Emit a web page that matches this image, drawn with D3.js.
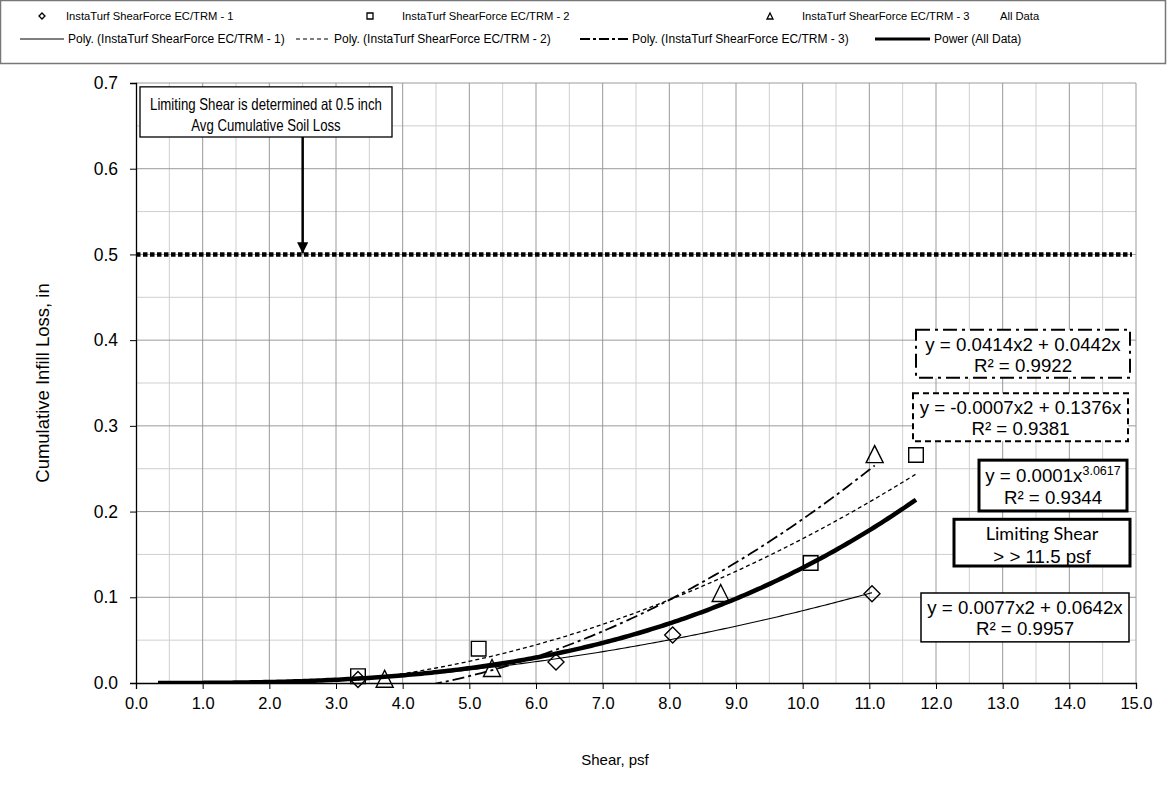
<!DOCTYPE html>
<html>
<head>
<meta charset="utf-8">
<style>
  body { margin: 0; background: #fff; }
  svg { display: block; font-family: "Liberation Sans", Arial, sans-serif; }
</style>
</head>
<body>
<div id="chart"></div>
<script src="https://cdn.jsdelivr.net/npm/d3@7"></script>
<script>
// values
var s1x = [3.33, 6.30, 8.05, 11.04],
    s1y = [0.004, 0.0245, 0.056, 0.104];
var s2x = [3.33, 5.14, 10.12, 11.70],
    s2y = [0.008, 0.040, 0.140, 0.266];
var s3x = [3.73, 5.34, 8.77, 11.08],
    s3y = [0.005, 0.0175, 0.105, 0.267];
var seriesNames = ["InstaTurf ShearForce EC/TRM - 1", "InstaTurf ShearForce EC/TRM - 2",
                   "InstaTurf ShearForce EC/TRM - 3", "All Data"];
var trendNames = ["Poly. (InstaTurf ShearForce EC/TRM - 1)", "Poly. (InstaTurf ShearForce EC/TRM - 2)",
                  "Poly. (InstaTurf ShearForce EC/TRM - 3)", "Power (All Data)"];
var xTicks = d3.range(0, 15.5, 1);
var yTicks = d3.range(0, 0.75, 0.1);
var limitLoss = 0.5, arrowShear = 2.5, backForecast = 3;
var noteLines = ["Limiting Shear is determined at 0.5 inch", "Avg Cumulative Soil Loss"];
var eq1 = ["y = 0.0077x2 + 0.0642x", "R² = 0.9957"],
    eq2 = ["y = -0.0007x2 + 0.1376x", "R² = 0.9381"],
    eq3 = ["y = 0.0414x2 + 0.0442x", "R² = 0.9922"],
    eqPow = ["0.0001", "3.0617", "R² = 0.9344"],
    limitText = ["Limiting Shear", "> > 11.5 psf"];

var W = 1169, H = 794;
var margin = {top: 83, right: 33, bottom: 111, left: 136},
    width = W - margin.left - margin.right,
    height = H - margin.top - margin.bottom;

var svg = d3.select("#chart").append("svg")
    .attr("width", W).attr("height", H);

var x = d3.scaleLinear().domain([0, 15]).range([margin.left, margin.left + width]);
var y = d3.scaleLinear().domain([0, 0.7]).range([margin.top + height, margin.top]);

svg.append("clipPath").attr("id", "clip")
  .append("rect").attr("x", x(0)).attr("y", y(0.7)).attr("width", width).attr("height", height);

// grid, minor first then major
var grid = svg.append("g");
grid.selectAll(".vmin").data(d3.range(0.5, 15, 1)).enter().append("line")
    .attr("x1", d => x(d)).attr("x2", d => x(d)).attr("y1", y(0)).attr("y2", y(0.7))
    .attr("stroke", "#cfcfcf");
grid.selectAll(".hmin").data(d3.range(0.05, 0.7, 0.1)).enter().append("line")
    .attr("y1", d => y(d)).attr("y2", d => y(d)).attr("x1", x(0)).attr("x2", x(15))
    .attr("stroke", "#cfcfcf");
grid.selectAll(".vmaj").data(xTicks.slice(1)).enter().append("line")
    .attr("x1", d => x(d)).attr("x2", d => x(d)).attr("y1", y(0)).attr("y2", y(0.7))
    .attr("stroke", "#9a9a9a");
grid.selectAll(".hmaj").data(yTicks.slice(1)).enter().append("line")
    .attr("y1", d => y(d)).attr("y2", d => y(d)).attr("x1", x(0)).attr("x2", x(15))
    .attr("stroke", "#9a9a9a");

// axes
var xAxis = svg.append("g").attr("transform", "translate(0," + y(0) + ")")
    .call(d3.axisBottom(x).tickValues(xTicks).tickFormat(d3.format(".1f")).tickSize(6).tickPadding(8));
var yAxis = svg.append("g").attr("transform", "translate(" + x(0) + ",0)")
    .call(d3.axisLeft(y).tickValues(yTicks).tickFormat(d3.format(".1f")).tickSize(6).tickPadding(12));
[xAxis, yAxis].forEach(function(a) {
  a.select(".domain").attr("stroke", "#000").attr("stroke-width", 1.3);
  a.selectAll(".tick line").attr("stroke", "#000");
  a.selectAll("text").attr("font-family", "Liberation Sans, Arial, sans-serif").attr("fill", "#000");
});
xAxis.selectAll("text").attr("font-size", 16.5);
yAxis.selectAll("text").attr("font-size", 17.5);

svg.append("text").attr("x", 615).attr("y", 765)
    .attr("text-anchor", "middle").attr("font-size", 15).text("Shear, psf");
svg.append("text").attr("transform", "translate(49," + ((y(0) + y(0.7)) / 2) + ") rotate(-90)")
    .attr("text-anchor", "middle").attr("font-size", 18.5).text("Cumulative Infill Loss, in");

// limit line
svg.append("line").attr("x1", x(0)).attr("x2", x(15) - 4).attr("y1", y(limitLoss)).attr("y2", y(limitLoss))
    .attr("stroke", "#000").attr("stroke-width", 4.5).attr("stroke-dasharray", "4.5,2.5");

// least squares fits
function polyFit0(xs, ys) { // y = a x^2 + b x
  var s4 = 0, s3 = 0, s2 = 0, sx2y = 0, sxy = 0;
  xs.forEach(function(v, i) {
    s4 += v * v * v * v; s3 += v * v * v; s2 += v * v;
    sx2y += v * v * ys[i]; sxy += v * ys[i];
  });
  var det = s4 * s2 - s3 * s3;
  var a = (sx2y * s2 - s3 * sxy) / det, b = (s4 * sxy - s3 * sx2y) / det;
  return function(t) { return a * t * t + b * t; };
}
function powerFit(xs, ys) {
  var lx = xs.map(Math.log), ly = ys.map(Math.log);
  var mx = d3.mean(lx), my = d3.mean(ly);
  var b = d3.sum(lx, (v, i) => (v - mx) * (ly[i] - my)) / d3.sum(lx, v => (v - mx) * (v - mx));
  var a = Math.exp(my - b * mx);
  return function(t) { return a * Math.pow(t, b); };
}
function sample(f, x0, x1) {
  var pts = d3.range(x0, x1, 0.05).map(t => [t, f(t)]);
  pts.push([x1, f(x1)]);
  return pts;
}

var allX = s1x.concat(s2x, s3x), allY = s1y.concat(s2y, s3y);
var trends = [
  {pts: sample(polyFit0(s1x, s1y), d3.min(s1x), d3.max(s1x)), w: 1.1, dash: null},
  {pts: sample(polyFit0(s2x, s2y), d3.min(s2x), d3.max(s2x)), w: 1.3, dash: "4,3"},
  {pts: sample(polyFit0(s3x, s3y), d3.min(s3x), d3.max(s3x)), w: 1.8, dash: "12,4,3,4"},
  {pts: sample(powerFit(allX, allY), d3.min(allX) - backForecast, d3.max(allX)), w: 4.5, dash: null}
];
var line = d3.line().x(d => x(d[0])).y(d => y(d[1]));
svg.append("g").attr("clip-path", "url(#clip)")
  .selectAll("path").data(trends).enter().append("path")
    .attr("d", d => line(d.pts))
    .attr("fill", "none").attr("stroke", "#000")
    .attr("stroke-width", d => d.w)
    .attr("stroke-dasharray", d => d.dash);

// markers
function diamond(r) { return "M0," + (-r) + "L" + r + ",0L0," + r + "L" + (-r) + ",0Z"; }
function square(r) { return "M" + (-r) + "," + (-r) + "H" + r + "V" + r + "H" + (-r) + "Z"; }
function triangle(r) { return "M0," + (-r) + "L" + r + "," + r + "L" + (-r) + "," + r + "Z"; }
var sets = [
  {xs: s1x, ys: s1y, shape: diamond(8)},
  {xs: s2x, ys: s2y, shape: square(7.3)},
  {xs: s3x, ys: s3y, shape: triangle(8.5)}
];
sets.forEach(function(s) {
  svg.append("g").selectAll("path").data(s.xs).enter().append("path")
    .attr("transform", (d, i) => "translate(" + x(d) + "," + y(s.ys[i]) + ")")
    .attr("d", s.shape).attr("fill", "none").attr("stroke", "#000").attr("stroke-width", 1.4);
});

// note box with arrow
var note = svg.append("g");
var nx0 = x(0.06), nx1 = x(3.84), ny0 = y(0.6955), ny1 = y(0.637);
note.append("rect").attr("x", nx0).attr("y", ny0).attr("width", nx1 - nx0)
    .attr("height", ny1 - ny0).attr("fill", "#fff").attr("stroke", "#000").attr("stroke-width", 1.3);
// narrow face: regular face squeezed horizontally
note.selectAll("text").data(noteLines).enter().append("text")
    .attr("transform", (d, i) => "translate(" + ((nx0 + nx1) / 2) + "," + (ny0 + 23 + i * 21) + ") scale(0.8,1)")
    .attr("text-anchor", "middle").attr("font-size", 16.5).text(d => d);
svg.append("defs").append("marker").attr("id", "arr").attr("viewBox", "0 0 10 10")
    .attr("refX", 10).attr("refY", 5).attr("markerWidth", 4.5).attr("markerHeight", 4.5)
    .attr("markerUnits", "strokeWidth").attr("orient", "auto")
  .append("path").attr("d", "M0,0L10,5L0,10Z").attr("fill", "#000");
svg.append("line").attr("x1", x(arrowShear)).attr("x2", x(arrowShear))
    .attr("y1", ny1).attr("y2", y(limitLoss) - 1)
    .attr("stroke", "#000").attr("stroke-width", 2.5).attr("marker-end", "url(#arr)");

// equation boxes (positions in chart units)
function box(x0, x1, y0, y1, sw, dash) {
  svg.append("rect").attr("x", x(x0)).attr("y", y(y0)).attr("width", x(x1) - x(x0)).attr("height", y(y1) - y(y0))
    .attr("fill", "#fff").attr("stroke", "#000").attr("stroke-width", sw).attr("stroke-dasharray", dash);
  return {cx: (x(x0) + x(x1)) / 2, top: y(y0)};
}
function twoLines(b, lines) {
  lines.forEach(function(t, i) {
    svg.append("text").attr("x", b.cx).attr("y", b.top + 21 + i * 21).attr("text-anchor", "middle")
      .attr("font-size", 18.7).text(t);
  });
}
var b3 = box(11.7, 14.91, 0.412, 0.356, 2, "14,5,3,5");
twoLines(b3, eq3);
var b2 = box(11.655, 14.88, 0.338, 0.282, 2, "6,4");
twoLines(b2, eq2);
var bp = box(12.645, 14.865, 0.260, 0.2007, 3, null);
var pt = svg.append("text").attr("x", bp.cx).attr("y", bp.top + 22).attr("text-anchor", "middle").attr("font-size", 18.7);
pt.append("tspan").text("y = " + eqPow[0] + "x");
pt.append("tspan").attr("dy", -7).attr("font-size", 12.5).text(eqPow[1]);
svg.append("text").attr("x", bp.cx).attr("y", bp.top + 44).attr("text-anchor", "middle").attr("font-size", 18.7).text(eqPow[2]);
var bl = box(12.27, 14.91, 0.191, 0.1365, 3, null);
svg.append("text").attr("x", bl.cx).attr("y", bl.top + 21).attr("text-anchor", "middle")
    .attr("font-size", 18).attr("font-family", "Lato, sans-serif").text(limitText[0]);
svg.append("text").attr("x", bl.cx).attr("y", bl.top + 44).attr("text-anchor", "middle")
    .attr("font-size", 18.7).text(limitText[1]);
var b1 = box(11.775, 14.895, 0.105, 0.048, 1.5, null);
twoLines(b1, eq1);

// legend
var lg = svg.append("g");
lg.append("rect").attr("x", 0.5).attr("y", 0.5).attr("width", 1165).attr("height", 63)
    .attr("fill", "#fff").attr("stroke", "#777").attr("stroke-width", 1.5);
var row1 = [{mx: 42, tx: 66, shape: diamond(3)}, {mx: 370, tx: 402, shape: square(3)},
            {mx: 770, tx: 802, shape: triangle(3)}, {mx: null, tx: 1000, shape: null}];
row1.forEach(function(d, i) {
  if (d.shape) lg.append("path").attr("transform", "translate(" + d.mx + ",16)").attr("d", d.shape)
      .attr("fill", "none").attr("stroke", "#000").attr("stroke-width", 1.3);
  lg.append("text").attr("x", d.tx).attr("y", 20).attr("font-size", 11.2).text(seriesNames[i]);
});
var row2 = [{x0: 20, x1: 64, w: 1, dash: null}, {x0: 296, x1: 330, w: 1, dash: "4,3"},
            {x0: 580, x1: 628, w: 1.8, dash: "10,3,3,3"}, {x0: 875, x1: 930, w: 3, dash: null}];
row2.forEach(function(d, i) {
  lg.append("line").attr("x1", d.x0).attr("x2", d.x1).attr("y1", 39).attr("y2", 39)
    .attr("stroke", "#000").attr("stroke-width", d.w).attr("stroke-dasharray", d.dash);
  lg.append("text").attr("x", d.x1 + 4).attr("y", 43).attr("font-size", 12).text(trendNames[i]);
});
</script>
</body>
</html>
